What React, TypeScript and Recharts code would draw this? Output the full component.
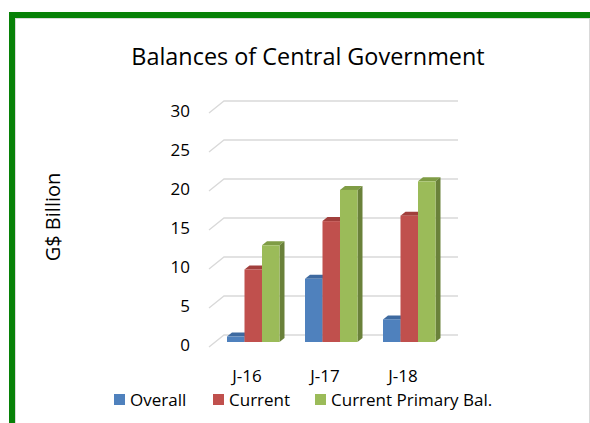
import React from "react";
import { BarChart, Bar, XAxis, YAxis, CartesianGrid } from "recharts";

// chart data
const periods = ["J-16", "J-17", "J-18"];
const overall = [0.7, 8.1, 2.9];
const current = [9.3, 15.5, 16.2];
const primary = [12.4, 19.5, 20.6];
const yTicks = [0, 5, 10, 15, 20, 25, 30];

const data = periods.map((p, i) => ({
  name: p,
  overall: overall[i],
  current: current[i],
  primary: primary[i],
}));

// depth of the 3D floor / back wall
const DEPTH_X = 15;
const DEPTH_Y = 12;
// where bars sit inside that depth, and the depth of each bar
const BAR_SHIFT_X = 5;
const BAR_SHIFT_Y = 5;
const BAR_DX = 5;
const BAR_DY = 4;

const FONT = "'Open Sans', sans-serif";

const make3DBar = (front: string, top: string, side: string) => (props: any) => {
  const { x, y, width, height } = props;
  if (width == null || height == null) return <g />;
  const x0 = x + BAR_SHIFT_X;
  const y0 = y - BAR_SHIFT_Y;
  const x1 = x0 + width;
  const y1 = y0 + height;
  return (
    <g>
      <polygon
        points={`${x0},${y0} ${x0 + BAR_DX},${y0 - BAR_DY} ${x1 + BAR_DX},${y0 - BAR_DY} ${x1},${y0}`}
        fill={top}
      />
      <polygon
        points={`${x1},${y0} ${x1 + BAR_DX},${y0 - BAR_DY} ${x1 + BAR_DX},${y1 - BAR_DY} ${x1},${y1}`}
        fill={side}
      />
      <rect x={x0} y={y0} width={width} height={height} fill={front} />
    </g>
  );
};

const gridLine = (p: any) => {
  const { x1, x2, y1 } = p;
  return (
    <path
      key={`g-${y1}`}
      d={`M${x1},${y1} L${x1 + DEPTH_X},${y1 - DEPTH_Y} L${x2 + DEPTH_X},${y1 - DEPTH_Y}`}
      stroke="#D9D9D9"
      strokeWidth={1.3}
      fill="none"
    />
  );
};

const YTick = (props: any) => {
  const { y, payload } = props;
  return (
    <text x={190} y={y + 4} textAnchor="end" fontSize={17} fill="#000" fontFamily={FONT}>
      {payload.value}
    </text>
  );
};

const XTick = (props: any) => {
  const { x, payload } = props;
  return (
    <text x={x - 1} y={382} textAnchor="middle" fontSize={17} fill="#000" fontFamily={FONT}>
      {payload.value}
    </text>
  );
};

const legendItems = [
  { label: "Overall", color: "#4F81BD", left: 114 },
  { label: "Current", color: "#C0504D", left: 213 },
  { label: "Current Primary Bal.", color: "#9BBB59", left: 315 },
];

export default function App() {
  return (
    <div
      style={{
        position: "fixed",
        left: 0,
        top: 0,
        width: 590,
        height: 423,
        overflow: "hidden",
        background: "#fff",
        fontFamily: FONT,
      }}
    >
      {/* green frame and the light chart border inside it */}
      <div
        style={{
          position: "absolute",
          left: 9,
          top: 12,
          width: 700,
          height: 600,
          borderTop: "6px solid #078107",
          borderLeft: "6px solid #078107",
        }}
      />
      <div
        style={{
          position: "absolute",
          left: 15,
          top: 18,
          width: 573,
          height: 600,
          border: "1px solid #D9D9D9",
        }}
      />

      <div
        style={{
          position: "absolute",
          left: 0,
          top: 44,
          width: 616,
          textAlign: "center",
          fontSize: 23.4,
          lineHeight: "24px",
          color: "#000",
        }}
      >
        Balances of Central Government
      </div>

      <div
        style={{
          position: "absolute",
          left: 53,
          top: 217,
          transform: "translate(-50%, -50%) rotate(-90deg)",
          whiteSpace: "nowrap",
          fontSize: 20,
          lineHeight: "22px",
          color: "#000",
        }}
      >
        G$ Billion
      </div>

      <div style={{ position: "absolute", left: 0, top: 0 }}>
        <BarChart
          width={590}
          height={423}
          data={data}
          barGap={0}
          barSize={17.5}
          margin={{ top: 113, right: 147, left: 149, bottom: 36 }}
        >
          <CartesianGrid vertical={false} horizontal={gridLine} />
          <XAxis
            dataKey="name"
            axisLine={false}
            tickLine={false}
            height={40}
            tick={<XTick />}
          />
          <YAxis
            domain={[0, 30]}
            ticks={yTicks}
            axisLine={false}
            tickLine={false}
            width={60}
            tick={<YTick />}
          />
          <Bar
            dataKey="overall"
            isAnimationActive={false}
            shape={make3DBar("#4F81BD", "#3E6AA0", "#395E8C")}
          />
          <Bar
            dataKey="current"
            isAnimationActive={false}
            shape={make3DBar("#C0504D", "#A13F3C", "#8E3835")}
          />
          <Bar
            dataKey="primary"
            isAnimationActive={false}
            shape={make3DBar("#9BBB59", "#7F9C45", "#6A813A")}
          />
        </BarChart>
      </div>

      {legendItems.map((it) => (
        <div
          key={it.label}
          style={{
            position: "absolute",
            left: it.left,
            top: 388,
            height: 22,
            display: "flex",
            alignItems: "center",
            whiteSpace: "nowrap",
            fontSize: 17,
            color: "#000",
          }}
        >
          <span
            style={{
              display: "inline-block",
              width: 11,
              height: 11,
              background: it.color,
              marginRight: 5,
            }}
          />
          {it.label}
        </div>
      ))}
    </div>
  );
}
